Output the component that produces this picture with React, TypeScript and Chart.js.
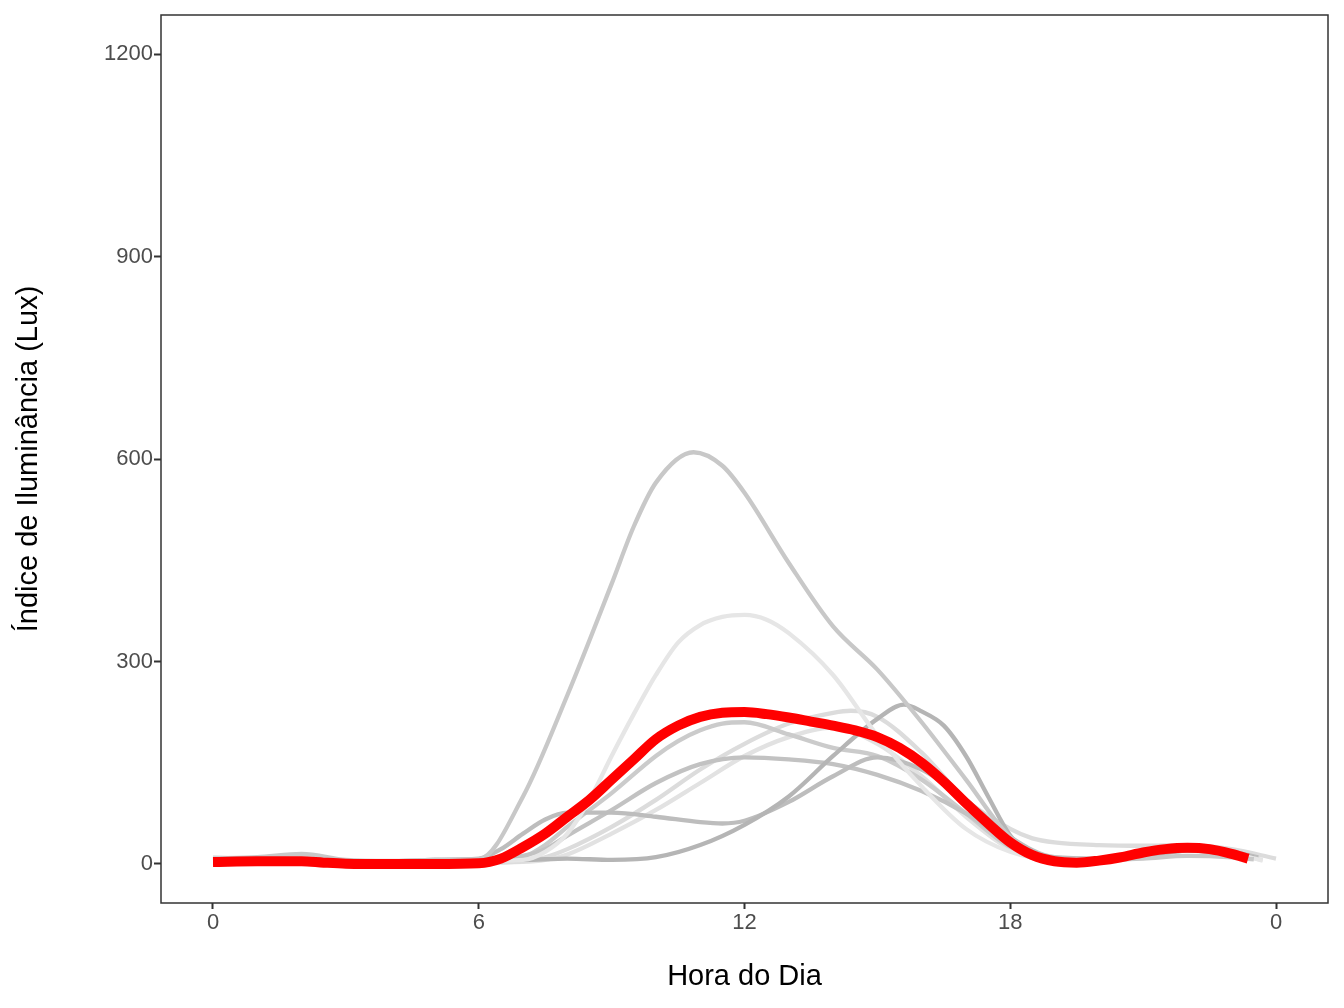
import React, { useEffect, useRef } from "react";
import { Chart, registerables } from "chart.js";

Chart.register(...registerables);

// ---- Data (hours of day vs illuminance, Lux) ----
const meanHours = [0, 1, 2, 2.5, 3, 4, 5, 6, 6.5, 7, 7.5, 8, 8.5, 9, 9.5, 10, 10.5, 11, 11.5, 12, 12.5, 13, 13.5, 14, 14.5, 15, 15.5, 16, 16.5, 17, 17.5, 18, 18.5, 19, 19.5, 20, 20.5, 21, 21.5, 22, 22.5, 23, 23.37];
const meanLux = [3, 4, 4, 2, 0.5, 0, 0, 1, 8, 25, 45, 70, 95, 125, 155, 185, 205, 218, 224, 225, 222, 217, 211, 205, 198, 188, 172, 150, 122, 90, 60, 32, 13, 4, 2, 5, 10, 17, 22, 24, 22, 15, 8];

const aHours = [0, 1, 2, 3, 4, 5, 6, 7, 8, 9, 9.5, 10, 10.85, 11.5, 12, 13, 14, 15, 16, 17, 18, 19, 20, 21, 22, 23, 23.5];
const aLux = [8, 10, 15, 6, 4, 6, 7, 100, 250, 415, 500, 565, 610, 590, 550, 446, 352, 288, 210, 125, 40, 8, 6, 8, 12, 10, 7];

const bHours = [0, 1, 2, 3, 4, 5, 6, 7, 7.5, 8, 8.5, 9, 9.5, 10, 10.5, 11, 11.5, 12, 12.5, 13, 14, 15, 16, 17, 18, 19, 20, 21, 22, 23, 23.7];
const bLux = [10, 8, 8, 5, 5, 5, 4, 6, 18, 45, 95, 160, 222, 280, 328, 354, 366, 369, 362, 342, 280, 190, 115, 52, 18, 6, 8, 14, 22, 16, 5];

const cHours = [0, 1, 2, 3, 4, 5, 6, 7, 8, 9, 10, 11, 12, 13, 14, 15, 15.6, 16, 16.5, 17, 17.5, 18, 18.5, 19, 20, 21, 22, 23, 23.5];
const cLux = [6, 5, 8, 4, 4, 6, 6, 6, 8, 6, 10, 28, 58, 100, 160, 215, 236, 226, 205, 160, 100, 42, 12, 3, 4, 12, 20, 15, 10];

const dHours = [0, 1, 2, 3, 4, 5, 6, 6.5, 7, 7.5, 8, 9, 10, 11, 11.5, 12, 13, 14, 15, 16, 17, 18, 19, 20, 21, 22, 23, 23.6];
const dLux = [4, 5, 6, 3, 4, 6, 8, 22, 45, 66, 76, 76, 70, 62, 60, 64, 92, 130, 158, 140, 95, 40, 10, 8, 14, 22, 18, 10];

const eHours = [0, 1, 2, 3, 4, 5, 6, 7, 7.5, 8, 9, 10, 11, 12, 13, 14, 15, 16, 17, 18, 19, 20, 21, 22, 23, 23.5];
const eLux = [5, 6, 8, 4, 3, 4, 4, 12, 22, 42, 80, 120, 148, 158, 155, 148, 132, 108, 75, 32, 5, 4, 10, 20, 18, 10];

const fHours = [0, 1, 2, 3, 4, 5, 6, 7, 7.5, 8, 9, 10, 10.5, 11, 11.5, 12, 13, 14, 15, 16, 17, 18, 19, 20, 21, 22, 23, 23.6];
const fLux = [3, 4, 5, 2, 2, 3, 3, 10, 28, 55, 105, 160, 182, 198, 208, 210, 192, 172, 160, 125, 75, 25, 4, 5, 12, 20, 15, 8];

const gHours = [0, 1, 2, 3, 4, 5, 6, 7, 7.5, 8, 9, 10, 11, 12, 13, 14, 14.4, 15, 16, 17, 18, 18.5, 19, 20, 21, 22, 23, 24];
const gLux = [5, 4, 5, 3, 2, 2, 2, 4, 10, 22, 55, 95, 140, 178, 208, 224, 227, 218, 165, 95, 52, 38, 32, 28, 27, 28, 22, 8];

const hHours = [0, 1, 2, 3, 4, 5, 6, 7, 7.5, 8, 9, 10, 11, 12, 13, 14, 15, 16, 17, 18, 19, 20, 21, 22, 23, 23.7];
const hLux = [4, 3, 3, 2, 2, 2, 2, 3, 6, 14, 45, 80, 120, 160, 188, 202, 178, 130, 70, 22, 4, 8, 15, 22, 16, 6];

const grayColors = ["#c8c8c8", "#e6e6e6", "#b5b5b5", "#bdbdbd", "#c2c2c2", "#cbcbcb", "#dcdcdc", "#e2e2e2"];

const xTickValues = [0, 6, 12, 18, 24];
const xTickLabels = ["0", "6", "12", "18", "0"];
const yTickValues = [0, 300, 600, 900, 1200];

const pts = (xs: number[], ys: number[]) => xs.map((x, i) => ({ x, y: ys[i] }));

const FONT = "'Liberation Sans', Arial, sans-serif";

export default function App() {
  const ref = useRef<HTMLCanvasElement | null>(null);

  useEffect(() => {
    if (!ref.current) return;
    const grays = [
      pts(aHours, aLux),
      pts(bHours, bLux),
      pts(cHours, cLux),
      pts(dHours, dLux),
      pts(eHours, eLux),
      pts(fHours, fLux),
      pts(gHours, gLux),
      pts(hHours, hLux),
    ];
    const datasets: any[] = [
      {
        label: "Média",
        data: pts(meanHours, meanLux),
        borderColor: "#ff0000",
        borderWidth: 10,
        order: 0,
      },
      ...grays.map((d, i) => ({
        label: "s" + i,
        data: d,
        borderColor: grayColors[i],
        borderWidth: 4.3,
        order: 1 + i,
      })),
    ];

    const borderPlugin = {
      id: "panelBorder",
      afterDatasetsDraw(chart: any) {
        const { ctx, chartArea } = chart;
        ctx.save();
        ctx.strokeStyle = "#333333";
        ctx.lineWidth = 1.5;
        ctx.strokeRect(chartArea.left, chartArea.top, chartArea.right - chartArea.left, chartArea.bottom - chartArea.top);
        ctx.restore();
      },
    };

    const chart = new Chart(ref.current, {
      type: "line",
      data: { datasets },
      options: {
        animation: false,
        responsive: true,
        maintainAspectRatio: false,
        layout: { padding: { top: 15, right: 16, left: 0, bottom: 0 } },
        elements: {
          point: { radius: 0 },
          line: { cubicInterpolationMode: "monotone", borderCapStyle: "butt", borderJoinStyle: "round", fill: false },
        },
        plugins: { legend: { display: false }, tooltip: { enabled: false } },
        scales: {
          x: {
            type: "linear",
            min: -1.174,
            max: 25.174,
            afterBuildTicks: (s: any) => {
              s.ticks = xTickValues.map((v) => ({ value: v }));
            },
            afterFit: (s: any) => {
              s.height = 105;
            },
            ticks: {
              callback: (v: any) => {
                const i = xTickValues.indexOf(Number(v));
                return i >= 0 ? xTickLabels[i] : "";
              },
              color: "#4d4d4d",
              font: { family: FONT, size: 22 },
              padding: 1,
              maxRotation: 0,
              autoSkip: false,
            },
            grid: { display: true, drawOnChartArea: false, drawTicks: true, tickLength: 6, tickWidth: 2, tickColor: "#333333" },
            border: { display: false },
            title: {
              display: true,
              text: "Hora do Dia",
              color: "#000000",
              font: { family: FONT, size: 29 },
              padding: { top: 0, bottom: 14 },
            },
          },
          y: {
            type: "linear",
            min: -57.8,
            max: 1257.8,
            afterBuildTicks: (s: any) => {
              s.ticks = yTickValues.map((v) => ({ value: v }));
            },
            afterFit: (s: any) => {
              s.width = 161;
            },
            ticks: {
              callback: (v: any) => String(v),
              color: "#4d4d4d",
              font: { family: FONT, size: 22 },
              padding: 1,
              autoSkip: false,
            },
            grid: { display: true, drawOnChartArea: false, drawTicks: true, tickLength: 7, tickWidth: 2, tickColor: "#333333" },
            border: { display: false },
            title: {
              display: true,
              text: "Índice de Iluminância (Lux)",
              color: "#000000",
              font: { family: FONT, size: 29 },
              padding: { top: 12, bottom: 0 },
            },
          },
        },
      },
      plugins: [borderPlugin],
    });
    return () => chart.destroy();
  }, []);

  return (
    <div style={{ position: "fixed", left: 0, top: 0, width: 1344, height: 1008, background: "#ffffff" }}>
      <canvas ref={ref} />
    </div>
  );
}
